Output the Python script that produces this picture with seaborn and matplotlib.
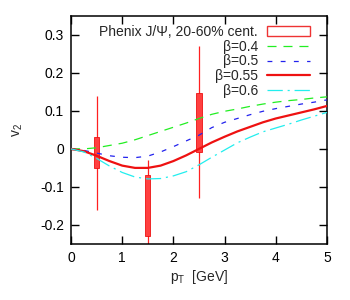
import numpy as np
import pandas as pd
import matplotlib
matplotlib.use("Agg")
import matplotlib.pyplot as plt
import seaborn as sns
from matplotlib.patches import Patch

# theory curves, v2 vs pT
pt = [0.0, 0.25, 0.5, 0.75, 1.0, 1.25, 1.5, 1.75, 2.0, 2.25, 2.5,
      2.75, 3.0, 3.25, 3.5, 3.75, 4.0, 4.25, 4.5, 4.75, 5.0]
v2_b040 = [0.0, 0.0, 0.003, 0.009, 0.015, 0.024, 0.035, 0.046, 0.057, 0.068, 0.080,
           0.091, 0.099, 0.105, 0.112, 0.118, 0.123, 0.127, 0.130, 0.134, 0.137]
v2_b050 = [0.0, -0.004, -0.011, -0.018, -0.022, -0.023, -0.019, -0.008, 0.006, 0.021, 0.036,
           0.056, 0.070, 0.080, 0.090, 0.099, 0.106, 0.112, 0.118, 0.123, 0.129]
v2_b055 = [0.0, -0.006, -0.018, -0.032, -0.044, -0.050, -0.050, -0.044, -0.032, -0.017, 0.0,
           0.017, 0.032, 0.046, 0.058, 0.070, 0.080, 0.088, 0.096, 0.104, 0.113]
v2_b060 = [0.0, -0.008, -0.025, -0.045, -0.062, -0.074, -0.079, -0.078, -0.071, -0.060, -0.042,
           -0.022, -0.003, 0.016, 0.031, 0.045, 0.055, 0.065, 0.076, 0.086, 0.096]

# PHENIX J/psi data
data_pt = [0.5, 1.5, 2.5]
data_v2 = [-0.01, -0.15, 0.07]
data_stat = [0.15, 0.12, 0.20]
data_sys = [0.04, 0.08, 0.078]

curves = [
    ("β=0.4", v2_b040, "#22ee22", 0.9, (6.5, 5.0)),
    ("β=0.5", v2_b050, "#2222ee", 0.9, (3.5, 6.0)),
    ("β=0.55", v2_b055, "#ee1111", 1.6, None),
    ("β=0.6", v2_b060, "#22eeee", 0.9, (11.0, 3.5, 1.5, 3.5)),
]

FS = 10

sns.set_theme(style="ticks")
plt.rcParams['font.family'] = ['Liberation Sans', 'DejaVu Sans']
plt.rcParams['lines.scale_dashes'] = False

fig = plt.figure(figsize=(3.5, 3.0), dpi=100)
ax = fig.add_axes([0.203, 0.187, 0.731, 0.76])

# data: stat bars + systematic boxes
ax.errorbar(data_pt, data_v2, yerr=data_stat, fmt='none', ecolor='#ff2020',
            elinewidth=0.9, capsize=0, zorder=2)
lo = np.array(data_v2) - np.array(data_sys)
ax.bar(data_pt, 2 * np.array(data_sys), bottom=lo, width=0.1,
       color='#ff4040', edgecolor='#ee1111', linewidth=0.6, zorder=3)

handles = [Patch(facecolor='white', edgecolor='#ee3333', linewidth=1.0)]
labels = ["Phenix J/Ψ, 20-60% cent."]
for name, vals, col, lw, dash in curves:
    df = pd.DataFrame({"pt": pt, "v2": vals})
    kw = {} if dash is None else {"dashes": dash}
    sns.lineplot(data=df, x="pt", y="v2", color=col, linewidth=lw, ax=ax,
                 legend=False, zorder=4, **kw)
    handles.append(ax.get_lines()[-1])
    labels.append(name)

ax.set_xlim(0, 5)
ax.set_ylim(-0.25, 0.35)
ax.set_xticks([0, 1, 2, 3, 4, 5])
ax.set_yticks([-0.2, -0.1, 0, 0.1, 0.2, 0.3])
ax.set_yticklabels(["-0.2", "-0.1", "0", "0.1", "0.2", "0.3"])
ax.tick_params(direction='in', length=5.5, width=1.0, labelsize=FS,
               top=True, right=True, pad=5, colors='black')
for s in ax.spines.values():
    s.set_linewidth(1.1)
    s.set_color('black')

ax.set_xlabel("p$_\\mathregular{T}$  [GeV]", fontsize=FS, labelpad=2)
ax.set_ylabel("v$_\\mathregular{2}$", fontsize=FS, labelpad=11)

ax.legend(handles, labels, loc='upper right', bbox_to_anchor=(0.934, 0.96),
          frameon=False, markerfirst=False, fontsize=FS, borderpad=0,
          borderaxespad=0, handlelength=3.1, handletextpad=0.65,
          labelspacing=0.05)

fig.savefig("out.png", dpi=100)
